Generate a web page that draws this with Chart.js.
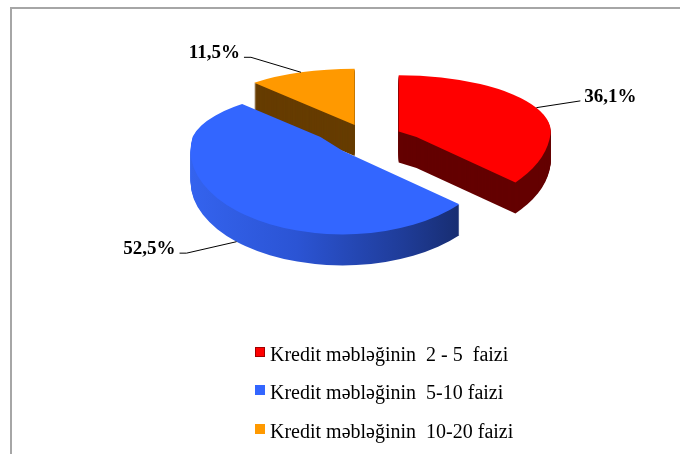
<!DOCTYPE html>
<html>
<head>
<meta charset="utf-8">
<script src="https://cdn.jsdelivr.net/npm/chart.js@4/dist/chart.umd.min.js"></script>
<style>
  html,body{margin:0;padding:0;background:#fff}
  #wrap{position:relative;width:680px;height:454px;overflow:hidden}
  #c{position:absolute;left:0;top:0}
  .frame-top{position:absolute;left:10px;top:7px;width:670px;height:2px;background:#a6a6a6}
  .frame-left{position:absolute;left:10px;top:7px;width:2px;height:447px;background:#a6a6a6}
  .legend-row{position:absolute;left:255px;height:20px;line-height:20px;font:20px "Liberation Serif","Times New Roman",serif;color:#000;white-space:pre}
  .legend-box{position:absolute;left:0;top:4px;width:10px;height:10px}
  .legend-text{position:absolute;left:15px;top:0}
</style>
</head>
<body>
<div id="wrap">
  <canvas id="c" width="680" height="454"></canvas>
  <div class="frame-top"></div>
  <div class="frame-left"></div>
  <div id="legend"></div>
</div>
<script>
// data
const labels = ['Kredit məbləğinin  2 - 5  faizi', 'Kredit məbləğinin  5-10 faizi', 'Kredit məbləğinin  10-20 faizi'];
const shares = [36.1, 52.5, 11.5];

// colours: top face, side face, legend box
const topColors = ['#ff0000', '#3366ff', '#ff9900'];
const sideColors = ['#640000', null, '#663c00']; // blue side gets a gradient
const legendBorders = ['#a00000', '#3366ff', '#ff9900'];

// 3d look: the far half is squashed more than the near half (fake perspective)
const K_FAR = 0.37;
const K_NEAR = 0.55;
const DEPTH = 31;      // thickness in px
const EXPLODE = 35;    // distance each slice is pulled out

function $(id){return document.getElementById(id)}

function fmt(v){ return v.toFixed(1).replace('.', ',') + '%'; }

function sideFill(i, ctx, p){
  if(sideColors[i]) return sideColors[i];
  const g = ctx.createLinearGradient(p.x - p.outerRadius, 0, p.x + p.outerRadius, 0);
  g.addColorStop(0, '#3463ee');
  g.addColorStop(0.35, '#2b54d4');
  g.addColorStop(0.7, '#1f3c98');
  g.addColorStop(1, '#132459');
  return g;
}

// one half (far or near) of one layer of a wedge
function drawHalf(ctx, arc, p, ex, ey, t, far){
  ctx.save();
  ctx.translate(p.x, p.y + t);
  ctx.scale(1, far ? K_FAR : K_NEAR);
  ctx.beginPath();
  if(far) ctx.rect(-2000, -2000, 4000, 2000); else ctx.rect(-2000, 0, 4000, 2000);
  ctx.clip();
  ctx.translate(-p.x + ex, -p.y + ey);
  arc.draw(ctx);
  ctx.restore();
}

// circle coords (relative to pie centre) -> screen
function proj(p, dx, dy){
  return {x: p.x + dx, y: p.y + dy * (dy < 0 ? K_FAR : K_NEAR)};
}

// draws the slices as tilted, exploded 3d wedges (back to front)
const pie3d = {
  id: 'pie3d',
  beforeDatasetsDraw(chart){
    const ctx = chart.ctx;
    const arcs = chart.getDatasetMeta(0).data;
    const order = [2, 0, 1];
    order.forEach(i=>{
      const arc = arcs[i];
      const p = arc.getProps(['x','y','startAngle','endAngle','outerRadius']);
      const mid = (p.startAngle + p.endAngle) / 2;
      const ex = Math.cos(mid) * EXPLODE, ey = Math.sin(mid) * EXPLODE;
      const orig = arc.options;
      for(let t = DEPTH; t >= 0; t--){
        arc.options = Object.assign({}, orig, {backgroundColor: t ? sideFill(i, ctx, p) : orig.backgroundColor});
        drawHalf(ctx, arc, p, ex, ey, t, true);
        drawHalf(ctx, arc, p, ex, ey, t, false);
      }
      arc.options = orig;
    });
    return false;
  },
  afterDraw(chart){
    // percent labels with leader lines
    const ctx = chart.ctx;
    const arcs = chart.getDatasetMeta(0).data;
    ctx.save();
    ctx.strokeStyle = '#000';
    ctx.lineWidth = 1;
    ctx.fillStyle = '#000';
    ctx.font = 'bold 19px "Liberation Serif", "Times New Roman", serif';
    ctx.textBaseline = 'alphabetic';
    arcs.forEach((arc, i)=>{
      const p = arc.getProps(['x','y','startAngle','endAngle','outerRadius']);
      const mid = (p.startAngle + p.endAngle) / 2;
      const c = Math.cos(mid), s = Math.sin(mid);
      const r = p.outerRadius + EXPLODE;
      const a = proj(p, r * c, r * s);
      if(s > 0) a.y += DEPTH;
      const side = c >= 0 ? 1 : -1;
      const bx = a.x + side * (side > 0 ? 44 : 50);
      const by = a.y + s * 16;
      const tail = side > 0 ? 0 : 7;
      ctx.beginPath();
      ctx.moveTo(a.x, a.y);
      ctx.lineTo(bx, by);
      ctx.lineTo(bx + side * tail, by);
      ctx.stroke();
      ctx.textAlign = side > 0 ? 'left' : 'right';
      ctx.fillText(fmt(shares[i]), bx + side * (tail + 4), by + 1);
    });
    ctx.restore();
  }
};

function buildLegend(){
  const box = $('legend');
  const rowsTop = [343, 381, 420];
  labels.forEach((lab, i)=>{
    const row = document.createElement('div');
    row.className = 'legend-row';
    row.style.top = rowsTop[i] + 'px';
    const sq = document.createElement('div');
    sq.className = 'legend-box';
    sq.style.background = topColors[i];
    sq.style.boxShadow = 'inset 0 0 0 1px ' + legendBorders[i];
    const tx = document.createElement('span');
    tx.className = 'legend-text';
    tx.textContent = lab;
    row.appendChild(sq); row.appendChild(tx);
    box.appendChild(row);
  });
}

new Chart($('c').getContext('2d'), {
  type: 'pie',
  data: {labels: labels, datasets: [{data: shares, backgroundColor: topColors, borderWidth: 0}]},
  options: {
    responsive: false,
    devicePixelRatio: 1,
    animation: false,
    radius: 152,
    layout: {padding: {left: 54, right: 0, top: 0, bottom: 180}},
    plugins: {legend: {display: false}, tooltip: {enabled: false}}
  },
  plugins: [pie3d]
});
buildLegend();
</script>
</body>
</html>
